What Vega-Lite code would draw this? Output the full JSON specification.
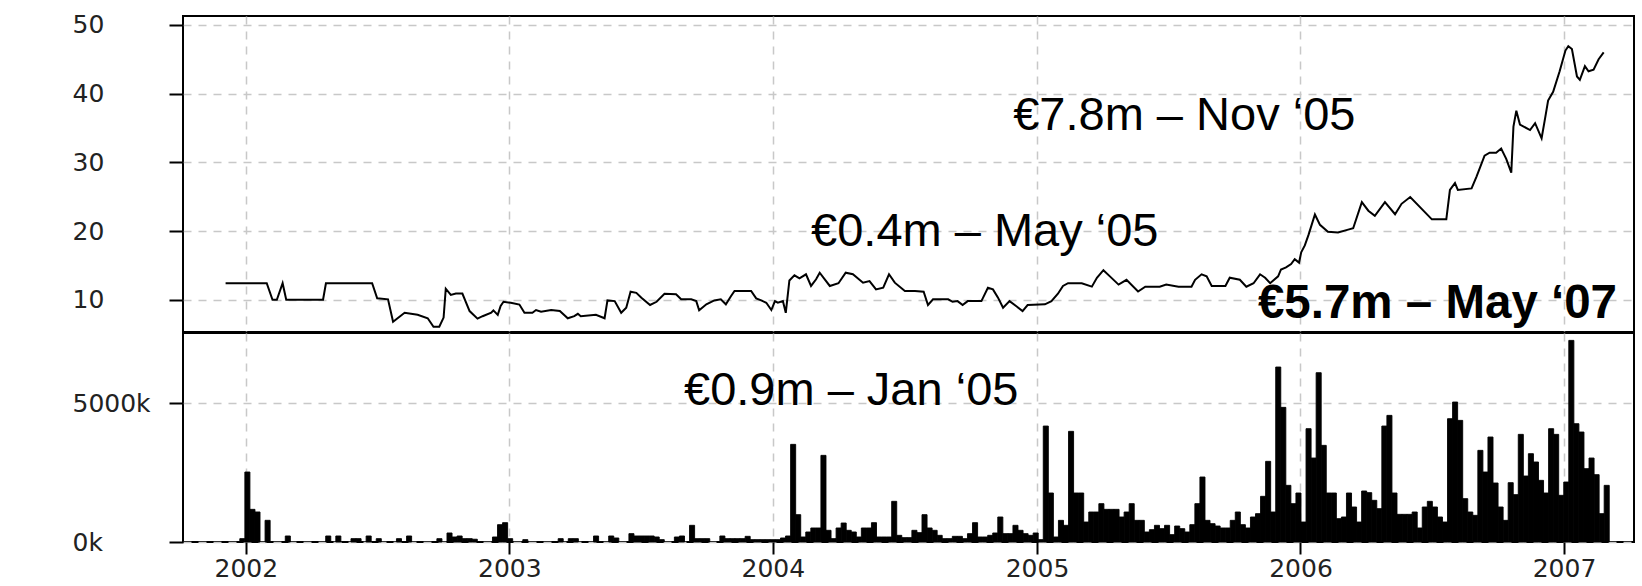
{
  "$schema": "https://vega.github.io/schema/vega-lite/v6.json",
  "background": "white",
  "padding": {"left": 71, "top": 11, "right": 11, "bottom": 0},
  "autosize": {"type": "pad"},
  "spacing": -2,
  "config": {
    "view": {"stroke": "#000000", "strokeWidth": 2},
    "axis": {
      "labelFont": "DejaVu Sans",
      "labelFontSize": 25,
      "labelColor": "#222222",
      "tickColor": "#000000",
      "tickWidth": 2,
      "domain": false,
      "gridColor": "#c8c8c8",
      "gridDash": [8, 7],
      "gridWidth": 1.5,
      "title": null
    }
  },
  "datasets": {
    "price": [
      {"date": "2001-12-04", "price": 12.4},
      {"date": "2002-01-30", "price": 12.4},
      {"date": "2002-02-07", "price": 10.0},
      {"date": "2002-02-13", "price": 10.0},
      {"date": "2002-02-21", "price": 12.4},
      {"date": "2002-02-26", "price": 10.0},
      {"date": "2002-04-18", "price": 10.0},
      {"date": "2002-04-22", "price": 12.4},
      {"date": "2002-06-25", "price": 12.4},
      {"date": "2002-07-02", "price": 10.2},
      {"date": "2002-07-17", "price": 10.05},
      {"date": "2002-07-24", "price": 6.8},
      {"date": "2002-08-09", "price": 8.1},
      {"date": "2002-08-27", "price": 7.8},
      {"date": "2002-09-10", "price": 7.3},
      {"date": "2002-09-18", "price": 6.07},
      {"date": "2002-09-26", "price": 6.07},
      {"date": "2002-10-02", "price": 7.4},
      {"date": "2002-10-05", "price": 11.6},
      {"date": "2002-10-12", "price": 10.7},
      {"date": "2002-10-19", "price": 10.9},
      {"date": "2002-10-28", "price": 10.9},
      {"date": "2002-11-07", "price": 8.35},
      {"date": "2002-11-18", "price": 7.25},
      {"date": "2002-11-25", "price": 7.6},
      {"date": "2002-12-07", "price": 8.1},
      {"date": "2002-12-10", "price": 8.45},
      {"date": "2002-12-16", "price": 7.8},
      {"date": "2002-12-20", "price": 9.1},
      {"date": "2002-12-24", "price": 9.7},
      {"date": "2003-01-03", "price": 9.55},
      {"date": "2003-01-15", "price": 9.3},
      {"date": "2003-01-22", "price": 8.1},
      {"date": "2003-02-02", "price": 8.1},
      {"date": "2003-02-07", "price": 8.5},
      {"date": "2003-02-14", "price": 8.25},
      {"date": "2003-02-28", "price": 8.5},
      {"date": "2003-03-12", "price": 8.35},
      {"date": "2003-03-23", "price": 7.3},
      {"date": "2003-04-01", "price": 7.6},
      {"date": "2003-04-06", "price": 7.95},
      {"date": "2003-04-10", "price": 7.6},
      {"date": "2003-05-01", "price": 7.8},
      {"date": "2003-05-13", "price": 7.3},
      {"date": "2003-05-17", "price": 9.9},
      {"date": "2003-05-27", "price": 9.8},
      {"date": "2003-06-05", "price": 8.1},
      {"date": "2003-06-12", "price": 8.84},
      {"date": "2003-06-18", "price": 11.17},
      {"date": "2003-06-26", "price": 11.0},
      {"date": "2003-07-03", "price": 10.3},
      {"date": "2003-07-15", "price": 9.23},
      {"date": "2003-07-24", "price": 9.7},
      {"date": "2003-08-04", "price": 10.87},
      {"date": "2003-08-20", "price": 10.8},
      {"date": "2003-08-27", "price": 10.06},
      {"date": "2003-09-10", "price": 10.06},
      {"date": "2003-09-17", "price": 9.8},
      {"date": "2003-09-21", "price": 8.45},
      {"date": "2003-10-01", "price": 9.33},
      {"date": "2003-10-12", "price": 9.9},
      {"date": "2003-10-21", "price": 10.06},
      {"date": "2003-10-28", "price": 9.33},
      {"date": "2003-11-04", "price": 10.5},
      {"date": "2003-11-09", "price": 11.27},
      {"date": "2003-12-02", "price": 11.27},
      {"date": "2003-12-09", "price": 10.2},
      {"date": "2003-12-16", "price": 9.9},
      {"date": "2003-12-23", "price": 9.56},
      {"date": "2003-12-30", "price": 8.5},
      {"date": "2004-01-04", "price": 9.8},
      {"date": "2004-01-08", "price": 9.56},
      {"date": "2004-01-15", "price": 9.8},
      {"date": "2004-01-19", "price": 8.1},
      {"date": "2004-01-24", "price": 12.8},
      {"date": "2004-01-31", "price": 13.55},
      {"date": "2004-02-07", "price": 13.1},
      {"date": "2004-02-16", "price": 13.7},
      {"date": "2004-02-23", "price": 12.0},
      {"date": "2004-03-01", "price": 12.97},
      {"date": "2004-03-06", "price": 13.93},
      {"date": "2004-03-13", "price": 12.97},
      {"date": "2004-03-20", "price": 12.0},
      {"date": "2004-04-01", "price": 12.4},
      {"date": "2004-04-11", "price": 13.93},
      {"date": "2004-04-21", "price": 13.7},
      {"date": "2004-05-05", "price": 12.48},
      {"date": "2004-05-14", "price": 12.72},
      {"date": "2004-05-23", "price": 11.5},
      {"date": "2004-06-02", "price": 11.75},
      {"date": "2004-06-10", "price": 13.7},
      {"date": "2004-06-18", "price": 12.48},
      {"date": "2004-07-02", "price": 11.27},
      {"date": "2004-07-16", "price": 11.27},
      {"date": "2004-07-28", "price": 11.17},
      {"date": "2004-08-03", "price": 9.23},
      {"date": "2004-08-10", "price": 10.06},
      {"date": "2004-08-31", "price": 10.06},
      {"date": "2004-09-06", "price": 9.7},
      {"date": "2004-09-13", "price": 9.8},
      {"date": "2004-09-20", "price": 9.23},
      {"date": "2004-09-27", "price": 9.8},
      {"date": "2004-10-16", "price": 9.8},
      {"date": "2004-10-25", "price": 11.75},
      {"date": "2004-11-01", "price": 11.5},
      {"date": "2004-11-08", "price": 10.3},
      {"date": "2004-11-15", "price": 8.84},
      {"date": "2004-11-24", "price": 9.8},
      {"date": "2004-12-03", "price": 9.08},
      {"date": "2004-12-12", "price": 8.35},
      {"date": "2004-12-19", "price": 9.23},
      {"date": "2005-01-12", "price": 9.33},
      {"date": "2005-01-21", "price": 9.8},
      {"date": "2005-01-30", "price": 10.87},
      {"date": "2005-02-06", "price": 12.0},
      {"date": "2005-02-13", "price": 12.4},
      {"date": "2005-03-04", "price": 12.4},
      {"date": "2005-03-18", "price": 11.9},
      {"date": "2005-03-25", "price": 13.2},
      {"date": "2005-04-03", "price": 14.3},
      {"date": "2005-04-12", "price": 13.4},
      {"date": "2005-04-24", "price": 12.2},
      {"date": "2005-05-05", "price": 12.9},
      {"date": "2005-05-21", "price": 11.2},
      {"date": "2005-05-31", "price": 11.9},
      {"date": "2005-06-20", "price": 11.9},
      {"date": "2005-06-29", "price": 12.2},
      {"date": "2005-07-16", "price": 11.9},
      {"date": "2005-08-03", "price": 11.9},
      {"date": "2005-08-08", "price": 12.9},
      {"date": "2005-08-17", "price": 13.7},
      {"date": "2005-08-24", "price": 13.4},
      {"date": "2005-08-31", "price": 12.0},
      {"date": "2005-09-19", "price": 12.0},
      {"date": "2005-09-25", "price": 13.2},
      {"date": "2005-10-09", "price": 12.9},
      {"date": "2005-10-18", "price": 11.9},
      {"date": "2005-10-28", "price": 12.4},
      {"date": "2005-11-06", "price": 13.7},
      {"date": "2005-11-13", "price": 13.2},
      {"date": "2005-11-20", "price": 12.4},
      {"date": "2005-12-01", "price": 13.4},
      {"date": "2005-12-05", "price": 14.4},
      {"date": "2005-12-12", "price": 14.7},
      {"date": "2005-12-19", "price": 15.2},
      {"date": "2005-12-24", "price": 15.9},
      {"date": "2005-12-30", "price": 15.4},
      {"date": "2006-01-02", "price": 16.9},
      {"date": "2006-01-07", "price": 17.9},
      {"date": "2006-01-12", "price": 19.4},
      {"date": "2006-01-21", "price": 22.4},
      {"date": "2006-01-28", "price": 20.9},
      {"date": "2006-02-08", "price": 19.9},
      {"date": "2006-02-22", "price": 19.8},
      {"date": "2006-03-08", "price": 20.2},
      {"date": "2006-03-15", "price": 20.4},
      {"date": "2006-03-27", "price": 24.2},
      {"date": "2006-04-05", "price": 22.96},
      {"date": "2006-04-14", "price": 22.2},
      {"date": "2006-04-28", "price": 24.2},
      {"date": "2006-05-12", "price": 22.45},
      {"date": "2006-05-21", "price": 23.96},
      {"date": "2006-06-02", "price": 24.95},
      {"date": "2006-07-02", "price": 21.7},
      {"date": "2006-07-22", "price": 21.7},
      {"date": "2006-07-27", "price": 25.97},
      {"date": "2006-08-03", "price": 26.97},
      {"date": "2006-08-07", "price": 25.97},
      {"date": "2006-08-26", "price": 26.2},
      {"date": "2006-09-02", "price": 27.97},
      {"date": "2006-09-13", "price": 30.98},
      {"date": "2006-09-20", "price": 31.4},
      {"date": "2006-09-29", "price": 31.4},
      {"date": "2006-10-06", "price": 32.0},
      {"date": "2006-10-13", "price": 30.5},
      {"date": "2006-10-20", "price": 28.5},
      {"date": "2006-10-23", "price": 35.2},
      {"date": "2006-10-27", "price": 37.5},
      {"date": "2006-11-01", "price": 35.5},
      {"date": "2006-11-15", "price": 34.7},
      {"date": "2006-11-22", "price": 35.7},
      {"date": "2006-12-01", "price": 33.5},
      {"date": "2006-12-06", "price": 36.5},
      {"date": "2006-12-10", "price": 39.0},
      {"date": "2006-12-17", "price": 40.26},
      {"date": "2006-12-26", "price": 43.26},
      {"date": "2007-01-03", "price": 46.27},
      {"date": "2007-01-07", "price": 46.9},
      {"date": "2007-01-12", "price": 46.5},
      {"date": "2007-01-19", "price": 42.5},
      {"date": "2007-01-23", "price": 42.0},
      {"date": "2007-01-30", "price": 44.0},
      {"date": "2007-02-04", "price": 43.26},
      {"date": "2007-02-11", "price": 43.5},
      {"date": "2007-02-18", "price": 45.0},
      {"date": "2007-02-25", "price": 46.0}
    ],
    "volume": [
      {"week": "2001-12-23", "volume_k": 120},
      {"week": "2001-12-30", "volume_k": 2518},
      {"week": "2002-01-06", "volume_k": 1175},
      {"week": "2002-01-13", "volume_k": 1080},
      {"week": "2002-01-27", "volume_k": 780},
      {"week": "2002-02-24", "volume_k": 216},
      {"week": "2002-04-21", "volume_k": 216},
      {"week": "2002-05-05", "volume_k": 216},
      {"week": "2002-05-26", "volume_k": 120},
      {"week": "2002-06-02", "volume_k": 120},
      {"week": "2002-06-16", "volume_k": 216},
      {"week": "2002-06-30", "volume_k": 120},
      {"week": "2002-07-28", "volume_k": 120},
      {"week": "2002-08-11", "volume_k": 216},
      {"week": "2002-09-22", "volume_k": 120},
      {"week": "2002-10-06", "volume_k": 324},
      {"week": "2002-10-13", "volume_k": 180},
      {"week": "2002-10-20", "volume_k": 216},
      {"week": "2002-10-27", "volume_k": 120},
      {"week": "2002-11-03", "volume_k": 120},
      {"week": "2002-11-10", "volume_k": 100},
      {"week": "2002-12-08", "volume_k": 180},
      {"week": "2002-12-15", "volume_k": 623},
      {"week": "2002-12-22", "volume_k": 695},
      {"week": "2002-12-29", "volume_k": 120},
      {"week": "2003-01-19", "volume_k": 84},
      {"week": "2003-03-09", "volume_k": 120},
      {"week": "2003-03-23", "volume_k": 120},
      {"week": "2003-03-30", "volume_k": 120},
      {"week": "2003-04-27", "volume_k": 216},
      {"week": "2003-05-18", "volume_k": 216},
      {"week": "2003-05-25", "volume_k": 144},
      {"week": "2003-06-15", "volume_k": 300},
      {"week": "2003-06-22", "volume_k": 216},
      {"week": "2003-06-29", "volume_k": 216},
      {"week": "2003-07-06", "volume_k": 216},
      {"week": "2003-07-13", "volume_k": 216},
      {"week": "2003-07-20", "volume_k": 180},
      {"week": "2003-07-27", "volume_k": 84},
      {"week": "2003-08-17", "volume_k": 180},
      {"week": "2003-08-24", "volume_k": 216},
      {"week": "2003-09-07", "volume_k": 600},
      {"week": "2003-09-14", "volume_k": 120},
      {"week": "2003-09-21", "volume_k": 120},
      {"week": "2003-09-28", "volume_k": 120},
      {"week": "2003-10-19", "volume_k": 216},
      {"week": "2003-10-26", "volume_k": 120},
      {"week": "2003-11-02", "volume_k": 120},
      {"week": "2003-11-09", "volume_k": 120},
      {"week": "2003-11-16", "volume_k": 120},
      {"week": "2003-11-23", "volume_k": 204},
      {"week": "2003-11-30", "volume_k": 84},
      {"week": "2003-12-07", "volume_k": 84},
      {"week": "2003-12-14", "volume_k": 84},
      {"week": "2003-12-21", "volume_k": 84},
      {"week": "2003-12-28", "volume_k": 84},
      {"week": "2004-01-04", "volume_k": 84},
      {"week": "2004-01-11", "volume_k": 144},
      {"week": "2004-01-18", "volume_k": 216},
      {"week": "2004-01-25", "volume_k": 3513},
      {"week": "2004-02-01", "volume_k": 983},
      {"week": "2004-02-08", "volume_k": 180},
      {"week": "2004-02-15", "volume_k": 360},
      {"week": "2004-02-22", "volume_k": 504},
      {"week": "2004-02-29", "volume_k": 504},
      {"week": "2004-03-07", "volume_k": 3117},
      {"week": "2004-03-14", "volume_k": 420},
      {"week": "2004-03-21", "volume_k": 120},
      {"week": "2004-03-28", "volume_k": 504},
      {"week": "2004-04-04", "volume_k": 683},
      {"week": "2004-04-11", "volume_k": 420},
      {"week": "2004-04-18", "volume_k": 360},
      {"week": "2004-04-25", "volume_k": 180},
      {"week": "2004-05-02", "volume_k": 504},
      {"week": "2004-05-09", "volume_k": 504},
      {"week": "2004-05-16", "volume_k": 695},
      {"week": "2004-05-23", "volume_k": 180},
      {"week": "2004-05-30", "volume_k": 180},
      {"week": "2004-06-06", "volume_k": 180},
      {"week": "2004-06-13", "volume_k": 1463},
      {"week": "2004-06-20", "volume_k": 240},
      {"week": "2004-06-27", "volume_k": 156},
      {"week": "2004-07-04", "volume_k": 156},
      {"week": "2004-07-11", "volume_k": 420},
      {"week": "2004-07-18", "volume_k": 336},
      {"week": "2004-07-25", "volume_k": 983},
      {"week": "2004-08-01", "volume_k": 504},
      {"week": "2004-08-08", "volume_k": 420},
      {"week": "2004-08-15", "volume_k": 240},
      {"week": "2004-08-22", "volume_k": 120},
      {"week": "2004-08-29", "volume_k": 120},
      {"week": "2004-09-05", "volume_k": 204},
      {"week": "2004-09-12", "volume_k": 204},
      {"week": "2004-09-19", "volume_k": 120},
      {"week": "2004-09-26", "volume_k": 300},
      {"week": "2004-10-03", "volume_k": 695},
      {"week": "2004-10-10", "volume_k": 180},
      {"week": "2004-10-17", "volume_k": 180},
      {"week": "2004-10-24", "volume_k": 240},
      {"week": "2004-10-31", "volume_k": 324},
      {"week": "2004-11-07", "volume_k": 899},
      {"week": "2004-11-14", "volume_k": 300},
      {"week": "2004-11-21", "volume_k": 300},
      {"week": "2004-11-28", "volume_k": 600},
      {"week": "2004-12-05", "volume_k": 420},
      {"week": "2004-12-12", "volume_k": 300},
      {"week": "2004-12-19", "volume_k": 240},
      {"week": "2004-12-26", "volume_k": 324},
      {"week": "2005-01-02", "volume_k": 84},
      {"week": "2005-01-09", "volume_k": 4172},
      {"week": "2005-01-16", "volume_k": 1763},
      {"week": "2005-01-23", "volume_k": 180},
      {"week": "2005-01-30", "volume_k": 779},
      {"week": "2005-02-06", "volume_k": 600},
      {"week": "2005-02-13", "volume_k": 3981},
      {"week": "2005-02-20", "volume_k": 1763},
      {"week": "2005-02-27", "volume_k": 1763},
      {"week": "2005-03-06", "volume_k": 719},
      {"week": "2005-03-13", "volume_k": 1079},
      {"week": "2005-03-20", "volume_k": 1079},
      {"week": "2005-03-27", "volume_k": 1379},
      {"week": "2005-04-03", "volume_k": 1175},
      {"week": "2005-04-10", "volume_k": 1175},
      {"week": "2005-04-17", "volume_k": 1175},
      {"week": "2005-04-24", "volume_k": 899},
      {"week": "2005-05-01", "volume_k": 1079},
      {"week": "2005-05-08", "volume_k": 1379},
      {"week": "2005-05-15", "volume_k": 779},
      {"week": "2005-05-22", "volume_k": 779},
      {"week": "2005-05-29", "volume_k": 360},
      {"week": "2005-06-05", "volume_k": 444},
      {"week": "2005-06-12", "volume_k": 600},
      {"week": "2005-06-19", "volume_k": 480},
      {"week": "2005-06-26", "volume_k": 600},
      {"week": "2005-07-03", "volume_k": 264},
      {"week": "2005-07-10", "volume_k": 575},
      {"week": "2005-07-17", "volume_k": 480},
      {"week": "2005-07-24", "volume_k": 360},
      {"week": "2005-07-31", "volume_k": 623},
      {"week": "2005-08-07", "volume_k": 1379},
      {"week": "2005-08-14", "volume_k": 2338},
      {"week": "2005-08-21", "volume_k": 779},
      {"week": "2005-08-28", "volume_k": 659},
      {"week": "2005-09-04", "volume_k": 575},
      {"week": "2005-09-11", "volume_k": 504},
      {"week": "2005-09-18", "volume_k": 504},
      {"week": "2005-09-25", "volume_k": 779},
      {"week": "2005-10-02", "volume_k": 1079},
      {"week": "2005-10-09", "volume_k": 623},
      {"week": "2005-10-16", "volume_k": 504},
      {"week": "2005-10-23", "volume_k": 899},
      {"week": "2005-10-30", "volume_k": 1019},
      {"week": "2005-11-06", "volume_k": 1643},
      {"week": "2005-11-13", "volume_k": 2902},
      {"week": "2005-11-20", "volume_k": 1079},
      {"week": "2005-11-27", "volume_k": 6295},
      {"week": "2005-12-04", "volume_k": 4844},
      {"week": "2005-12-11", "volume_k": 2038},
      {"week": "2005-12-18", "volume_k": 1379},
      {"week": "2005-12-25", "volume_k": 1763},
      {"week": "2006-01-01", "volume_k": 719},
      {"week": "2006-01-08", "volume_k": 4077},
      {"week": "2006-01-15", "volume_k": 3021},
      {"week": "2006-01-22", "volume_k": 6091},
      {"week": "2006-01-29", "volume_k": 3477},
      {"week": "2006-02-05", "volume_k": 1763},
      {"week": "2006-02-12", "volume_k": 1763},
      {"week": "2006-02-19", "volume_k": 839},
      {"week": "2006-02-26", "volume_k": 899},
      {"week": "2006-03-05", "volume_k": 1763},
      {"week": "2006-03-12", "volume_k": 1259},
      {"week": "2006-03-19", "volume_k": 719},
      {"week": "2006-03-26", "volume_k": 1835},
      {"week": "2006-04-02", "volume_k": 1775},
      {"week": "2006-04-09", "volume_k": 1499},
      {"week": "2006-04-16", "volume_k": 1199},
      {"week": "2006-04-23", "volume_k": 4172},
      {"week": "2006-04-30", "volume_k": 4556},
      {"week": "2006-05-07", "volume_k": 1763},
      {"week": "2006-05-14", "volume_k": 995},
      {"week": "2006-05-21", "volume_k": 995},
      {"week": "2006-05-28", "volume_k": 995},
      {"week": "2006-06-04", "volume_k": 1079},
      {"week": "2006-06-11", "volume_k": 504},
      {"week": "2006-06-18", "volume_k": 1259},
      {"week": "2006-06-25", "volume_k": 1463},
      {"week": "2006-07-02", "volume_k": 1259},
      {"week": "2006-07-09", "volume_k": 899},
      {"week": "2006-07-16", "volume_k": 719},
      {"week": "2006-07-23", "volume_k": 4436},
      {"week": "2006-07-30", "volume_k": 5036},
      {"week": "2006-08-06", "volume_k": 4376},
      {"week": "2006-08-13", "volume_k": 1559},
      {"week": "2006-08-20", "volume_k": 1079},
      {"week": "2006-08-27", "volume_k": 959},
      {"week": "2006-09-03", "volume_k": 3297},
      {"week": "2006-09-10", "volume_k": 2518},
      {"week": "2006-09-17", "volume_k": 3777},
      {"week": "2006-09-24", "volume_k": 2122},
      {"week": "2006-10-01", "volume_k": 1259},
      {"week": "2006-10-08", "volume_k": 779},
      {"week": "2006-10-15", "volume_k": 2134},
      {"week": "2006-10-22", "volume_k": 1703},
      {"week": "2006-10-29", "volume_k": 3873},
      {"week": "2006-11-05", "volume_k": 2374},
      {"week": "2006-11-12", "volume_k": 3177},
      {"week": "2006-11-19", "volume_k": 2878},
      {"week": "2006-11-26", "volume_k": 2218},
      {"week": "2006-12-03", "volume_k": 1763},
      {"week": "2006-12-10", "volume_k": 4077},
      {"week": "2006-12-17", "volume_k": 3873},
      {"week": "2006-12-24", "volume_k": 1679},
      {"week": "2006-12-31", "volume_k": 2158},
      {"week": "2007-01-07", "volume_k": 7254},
      {"week": "2007-01-14", "volume_k": 4256},
      {"week": "2007-01-21", "volume_k": 3957},
      {"week": "2007-01-28", "volume_k": 2638},
      {"week": "2007-02-04", "volume_k": 3021},
      {"week": "2007-02-11", "volume_k": 2422},
      {"week": "2007-02-18", "volume_k": 1019},
      {"week": "2007-02-25", "volume_k": 2038}
    ]
  },
  "vconcat": [
    {
      "width": 1451,
      "height": 316,
      "layer": [
        {
          "data": {"name": "price"},
          "mark": {"type": "line", "color": "#000000", "strokeWidth": 2, "clip": true},
          "encoding": {
            "x": {
              "field": "date",
              "type": "temporal",
              "scale": {"domain": [{"year": 2001, "month": 10, "date": 6}, {"year": 2007, "month": 4, "date": 8}], "nice": false},
              "axis": {"labels": false, "ticks": false, "grid": true, "tickCount": {"interval": "year", "step": 1}}
            },
            "y": {
              "field": "price",
              "type": "quantitative",
              "scale": {"domain": [5.3, 51.3], "nice": false, "zero": false},
              "axis": {"values": [10, 20, 30, 40, 50], "tickSize": 14, "labelAlign": "left", "labelPadding": 97, "labelBaseline": "middle", "grid": true}
            }
          }
        },
        {
          "data": {"values": [
            {"date": "2004-11-29", "price": 34.7, "label": "€7.8m – Nov ‘05"},
            {"date": "2004-02-23", "price": 17.8, "label": "€0.4m – May ‘05"}
          ]},
          "mark": {"type": "text", "font": "Liberation Sans", "fontSize": 47, "align": "left", "baseline": "alphabetic", "color": "#000000"},
          "encoding": {
            "x": {"field": "date", "type": "temporal"},
            "y": {"field": "price", "type": "quantitative"},
            "text": {"field": "label"}
          }
        },
        {
          "data": {"values": [
            {"date": "2005-11-03", "price": 7.34, "label": "€5.7m – May ‘07"}
          ]},
          "mark": {"type": "text", "font": "Liberation Sans", "fontSize": 47.5, "fontWeight": "bold", "align": "left", "baseline": "alphabetic", "color": "#000000"},
          "encoding": {
            "x": {"field": "date", "type": "temporal"},
            "y": {"field": "price", "type": "quantitative"},
            "text": {"field": "label"}
          }
        }
      ]
    },
    {
      "width": 1451,
      "height": 209,
      "layer": [
        {
          "data": {"name": "volume"},
          "mark": {"type": "bar", "color": "#000000", "binSpacing": 0, "stroke": "#000000", "strokeWidth": 0.9},
          "encoding": {
            "x": {
              "field": "week",
              "timeUnit": "yearweek",
              "type": "temporal",
              "scale": {"domain": [{"year": 2001, "month": 10, "date": 6}, {"year": 2007, "month": 4, "date": 8}], "nice": false},
              "axis": {"format": "%Y", "formatType": "time", "tickCount": {"interval": "year", "step": 1}, "tickSize": 12, "labelPadding": 2, "grid": true}
            },
            "y": {
              "field": "volume_k",
              "type": "quantitative",
              "scale": {"domain": [0, 7520], "nice": false},
              "axis": {"values": [0, 5000], "labelExpr": "datum.value + 'k'", "tickSize": 14, "labelAlign": "left", "labelPadding": 97, "labelBaseline": "middle", "grid": true}
            }
          }
        },
        {
          "data": {"values": [
            {"date": "2003-08-31", "volume_k": 4928, "label": "€0.9m – Jan ‘05"}
          ]},
          "mark": {"type": "text", "font": "Liberation Sans", "fontSize": 47, "align": "left", "baseline": "alphabetic", "color": "#000000"},
          "encoding": {
            "x": {"field": "date", "type": "temporal"},
            "y": {"field": "volume_k", "type": "quantitative"},
            "text": {"field": "label"}
          }
        }
      ]
    }
  ]
}
